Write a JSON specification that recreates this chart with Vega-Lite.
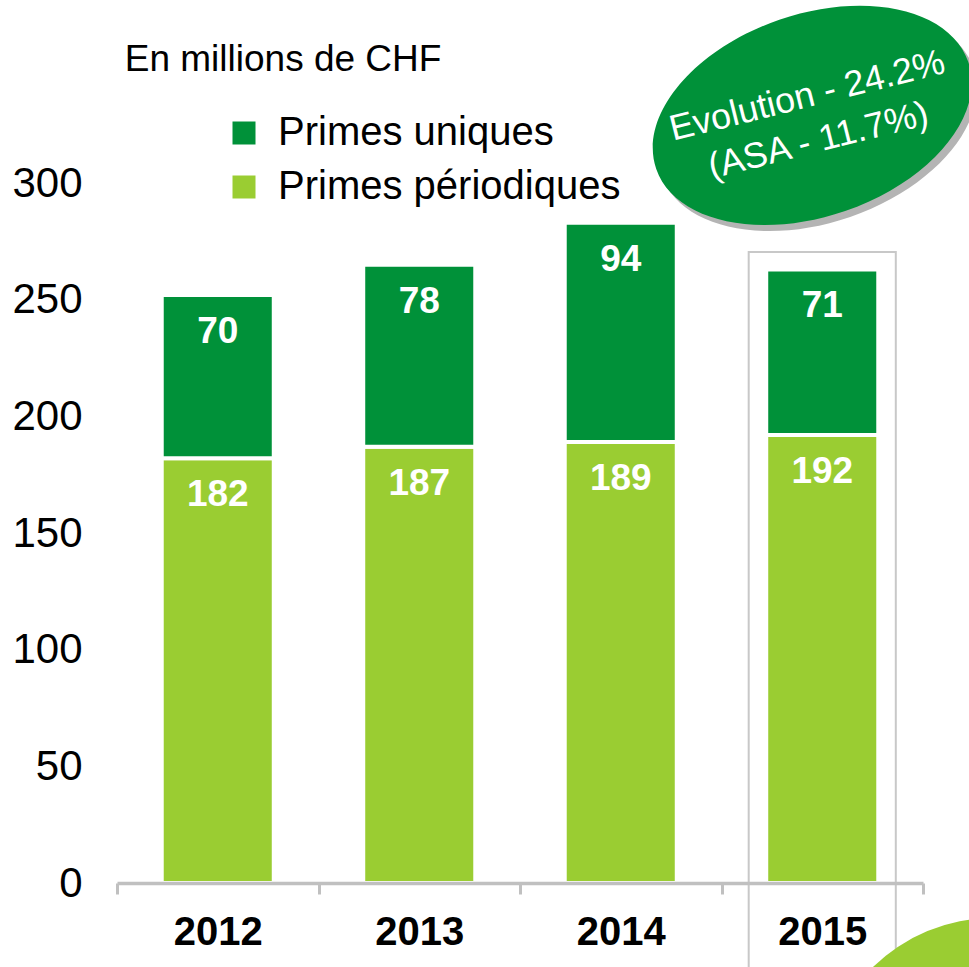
{
  "$schema": "https://vega.github.io/schema/vega-lite/v6.json",
  "width": 806,
  "height": 783,
  "autosize": {"type": "none"},
  "padding": {"left": 117, "top": 100, "right": 46, "bottom": 84},
  "background": "white",
  "config": {"font": "Liberation Sans", "view": {"stroke": null}},
  "data": {"values": [
    {"year": "2012", "type": "Primes périodiques", "value": 182},
    {"year": "2012", "type": "Primes uniques", "value": 70},
    {"year": "2013", "type": "Primes périodiques", "value": 187},
    {"year": "2013", "type": "Primes uniques", "value": 78},
    {"year": "2014", "type": "Primes périodiques", "value": 189},
    {"year": "2014", "type": "Primes uniques", "value": 94},
    {"year": "2015", "type": "Primes périodiques", "value": 192},
    {"year": "2015", "type": "Primes uniques", "value": 71}
  ]},
  "layer": [
    {
      "data": {"values": [{"note": "box"}]},
      "mark": {"type": "bar", "filled": false, "stroke": "#c8c8c8", "strokeWidth": 2, "width": {"band": 0.73}},
      "encoding": {
        "x": {"datum": "2015", "type": "nominal"},
        "y": {"datum": 270.5, "type": "quantitative"},
        "y2": {"datum": -40}
      }
    },
    {
      "data": {"values": [{"note": "circle"}]},
      "mark": {"type": "point", "shape": "circle", "filled": true, "fill": "#9ACD32", "opacity": 1, "size": 118336, "strokeWidth": 0, "xOffset": 171},
      "encoding": {
        "x": {"datum": "2015", "type": "nominal"},
        "y": {"datum": -88.7, "type": "quantitative"}
      }
    },
    {
      "transform": [{"stack": "value", "groupby": ["year"], "sort": [{"field": "type", "order": "ascending"}], "as": ["v0", "v1"]}],
      "mark": {"type": "bar", "width": {"band": 0.556}, "stroke": "white", "strokeWidth": 4},
      "encoding": {
        "x": {"field": "year", "type": "nominal", "scale": {"paddingInner": 0, "paddingOuter": 0},
          "axis": {"title": null, "domain": true, "domainColor": "#c0c0c0", "domainWidth": 3.5, "ticks": true, "tickColor": "#c0c0c0", "tickWidth": 3, "tickSize": 11, "tickBand": "extent", "labelFontSize": 40, "labelFontWeight": "bold", "labelColor": "black", "labelPadding": 38, "labelAngle": 0, "labelAlign": "center", "zindex": 1, "grid": false}},
        "y": {"field": "v0", "type": "quantitative", "scale": {"domain": [0, 335.6], "nice": false, "zero": false},
          "axis": {"title": null, "values": [0, 50, 100, 150, 200, 250, 300], "domain": false, "ticks": false, "tickSize": 0, "grid": false, "labelFontSize": 42, "labelColor": "black", "labelPadding": 35}},
        "y2": {"field": "v1"},
        "color": {"field": "type", "type": "nominal",
          "scale": {"domain": ["Primes uniques", "Primes périodiques"], "range": ["#009139", "#9ACD32"]},
          "legend": {"orient": "none", "legendX": 107, "legendY": 13, "title": null, "symbolType": "square", "symbolSize": 529, "symbolStrokeWidth": 0, "labelFontSize": 40, "labelColor": "black", "labelOffset": 14, "labelLimit": 0, "rowPadding": 14, "padding": 0}}
      }
    },
    {
      "transform": [{"stack": "value", "groupby": ["year"], "sort": [{"field": "type", "order": "ascending"}], "as": ["v0", "v1"]}],
      "mark": {"type": "text", "color": "white", "fontSize": 37, "fontWeight": "bold", "baseline": "middle", "align": "center", "dy": 37},
      "encoding": {
        "x": {"field": "year", "type": "nominal"},
        "y": {"field": "v1", "type": "quantitative"},
        "text": {"field": "value", "type": "quantitative"}
      }
    },
    {
      "data": {"values": [{"label": "En millions de CHF"}]},
      "mark": {"type": "text", "color": "black", "fontSize": 37, "align": "left", "baseline": "middle", "xOffset": -93},
      "encoding": {
        "x": {"datum": "2012", "type": "nominal"},
        "y": {"datum": 352.8, "type": "quantitative"},
        "text": {"field": "label"}
      }
    },
    {
      "data": {"values": [{"note": "shadow"}]},
      "mark": {"type": "point", "shape": "M-1,0A1,0.613,0,1,1,1,0A1,0.613,0,1,1,-1,0Z", "filled": true, "fill": "#b4b4b4", "opacity": 1, "size": 108900, "angle": -19, "strokeWidth": 0, "xOffset": -5, "yOffset": 6},
      "encoding": {
        "x": {"datum": "2015", "type": "nominal"},
        "y": {"datum": 329, "type": "quantitative"}
      }
    },
    {
      "data": {"values": [{"note": "ellipse"}]},
      "mark": {"type": "point", "shape": "M-1,0A1,0.613,0,1,1,1,0A1,0.613,0,1,1,-1,0Z", "filled": true, "fill": "#009139", "opacity": 1, "size": 108900, "angle": -19, "strokeWidth": 0, "xOffset": -10},
      "encoding": {
        "x": {"datum": "2015", "type": "nominal"},
        "y": {"datum": 329, "type": "quantitative"}
      }
    },
    {
      "data": {"values": [{"label": ["Evolution - 24.2%", "(ASA - 11.7%)"]}]},
      "mark": {"type": "text", "color": "white", "fontSize": 36, "align": "center", "baseline": "middle", "lineHeight": 46, "angle": -14, "xOffset": -15},
      "encoding": {
        "x": {"datum": "2015", "type": "nominal"},
        "y": {"datum": 337.3, "type": "quantitative"},
        "text": {"field": "label"}
      }
    }
  ]
}
